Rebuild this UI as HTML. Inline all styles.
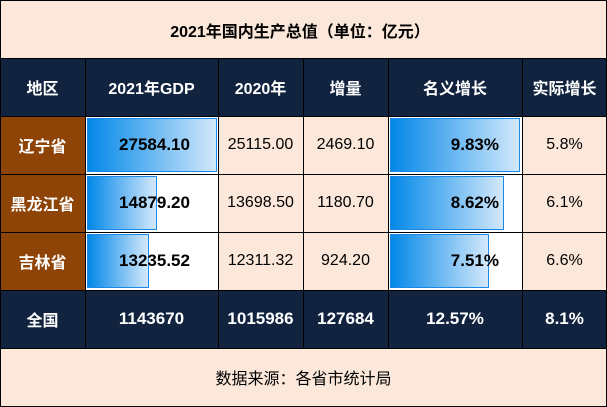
<!DOCTYPE html>
<html>
<head>
<meta charset="utf-8">
<style>
*{margin:0;padding:0;box-sizing:border-box;}
html,body{width:607px;height:407px;background:#fff;overflow:hidden;}
body{font-family:"Liberation Sans","Noto Sans CJK SC",sans-serif;}
#c{position:relative;width:607px;height:407px;}
.bg{position:absolute;}
.t{position:absolute;display:flex;align-items:center;justify-content:center;font-size:16px;white-space:nowrap;color:#000;}
.w{color:#fff;font-weight:bold;}
.b{font-weight:bold;font-size:17px;}
.h{position:absolute;height:1px;background:#000;left:0;width:607px;}
.v{position:absolute;width:1px;background:#000;top:58px;height:291px;}
.bar{position:absolute;border:1px solid #1a88e6;background:linear-gradient(to right,#0288e8,#d3e8fb);}
</style>
</head>
<body>
<div id="c">
<!-- backgrounds -->
<div class="bg" style="left:0;top:0;width:607px;height:58px;background:#fce8da;"></div>
<div class="bg" style="left:0;top:58px;width:607px;height:58px;background:#11233f;"></div>
<div class="bg" style="left:0;top:116px;width:85px;height:174px;background:#8e4307;"></div>
<div class="bg" style="left:218px;top:116px;width:170px;height:174px;background:#fce8da;"></div>
<div class="bg" style="left:522px;top:116px;width:85px;height:174px;background:#fce8da;"></div>
<div class="bg" style="left:0;top:290px;width:607px;height:58px;background:#11233f;"></div>
<div class="bg" style="left:0;top:348px;width:607px;height:59px;background:#fce8da;"></div>

<!-- bars -->
<div class="bar" style="left:87px;top:118px;width:130px;height:54px;"></div>
<div class="bar" style="left:87px;top:176px;width:70px;height:54px;"></div>
<div class="bar" style="left:87px;top:234px;width:62px;height:54px;"></div>
<div class="bar" style="left:390px;top:118px;width:130px;height:54px;"></div>
<div class="bar" style="left:390px;top:176px;width:114px;height:54px;"></div>
<div class="bar" style="left:390px;top:234px;width:99px;height:54px;"></div>

<!-- lines -->
<div class="h" style="top:0;"></div>
<div class="h" style="top:58px;"></div>
<div class="h" style="top:116px;"></div>
<div class="h" style="top:174px;"></div>
<div class="h" style="top:232px;"></div>
<div class="h" style="top:290px;"></div>
<div class="h" style="top:348px;"></div>
<div class="h" style="top:406px;"></div>
<div class="v" style="left:0;top:0;height:407px;"></div>
<div class="v" style="left:606px;top:0;height:407px;"></div>
<div class="v" style="left:85px;"></div>
<div class="v" style="left:218px;"></div>
<div class="v" style="left:303px;"></div>
<div class="v" style="left:388px;"></div>
<div class="v" style="left:522px;"></div>

<!-- title -->
<div class="t" style="left:0;top:0;width:600px;height:59px;font-weight:bold;">2021年国内生产总值（单位：亿元）</div>

<!-- header -->
<div class="t w" style="left:0;top:58px;width:85px;height:58px;">地区</div>
<div class="t w" style="left:85px;top:58px;width:133px;height:58px;">2021年GDP</div>
<div class="t w" style="left:218px;top:58px;width:85px;height:58px;">2020年</div>
<div class="t w" style="left:303px;top:58px;width:85px;height:58px;">增量</div>
<div class="t w" style="left:388px;top:58px;width:134px;height:58px;">名义增长</div>
<div class="t w" style="left:522px;top:58px;width:85px;height:58px;">实际增长</div>

<!-- row 1 -->
<div class="t w" style="left:0;top:116px;width:85px;height:58px;">辽宁省</div>
<div class="t b" style="left:91px;top:116px;width:127px;height:58px;">27584.10</div>
<div class="t" style="left:218px;top:116px;width:85px;height:58px;">25115.00</div>
<div class="t" style="left:303px;top:116px;width:85px;height:58px;">2469.10</div>
<div class="t b" style="left:388px;top:116px;width:111px;height:58px;justify-content:flex-end;">9.83%</div>
<div class="t" style="left:522px;top:116px;width:85px;height:58px;">5.8%</div>

<!-- row 2 -->
<div class="t w" style="left:0;top:174px;width:85px;height:58px;">黑龙江省</div>
<div class="t b" style="left:91px;top:174px;width:127px;height:58px;">14879.20</div>
<div class="t" style="left:218px;top:174px;width:85px;height:58px;">13698.50</div>
<div class="t" style="left:303px;top:174px;width:85px;height:58px;">1180.70</div>
<div class="t b" style="left:388px;top:174px;width:111px;height:58px;justify-content:flex-end;">8.62%</div>
<div class="t" style="left:522px;top:174px;width:85px;height:58px;">6.1%</div>

<!-- row 3 -->
<div class="t w" style="left:0;top:232px;width:85px;height:58px;">吉林省</div>
<div class="t b" style="left:91px;top:232px;width:127px;height:58px;">13235.52</div>
<div class="t" style="left:218px;top:232px;width:85px;height:58px;">12311.32</div>
<div class="t" style="left:303px;top:232px;width:85px;height:58px;">924.20</div>
<div class="t b" style="left:388px;top:232px;width:111px;height:58px;justify-content:flex-end;">7.51%</div>
<div class="t" style="left:522px;top:232px;width:85px;height:58px;">6.6%</div>

<!-- total -->
<div class="t w" style="left:0;top:290px;width:85px;height:58px;">全国</div>
<div class="t w b" style="left:85px;top:290px;width:133px;height:58px;">1143670</div>
<div class="t w b" style="left:218px;top:290px;width:85px;height:58px;">1015986</div>
<div class="t w b" style="left:303px;top:290px;width:85px;height:58px;">127684</div>
<div class="t w b" style="left:388px;top:290px;width:134px;height:58px;">12.57%</div>
<div class="t w b" style="left:522px;top:290px;width:85px;height:58px;">8.1%</div>

<!-- footer -->
<div class="t" style="left:0;top:348px;width:607px;height:58px;">数据来源：各省市统计局</div>
</div>
</body>
</html>
